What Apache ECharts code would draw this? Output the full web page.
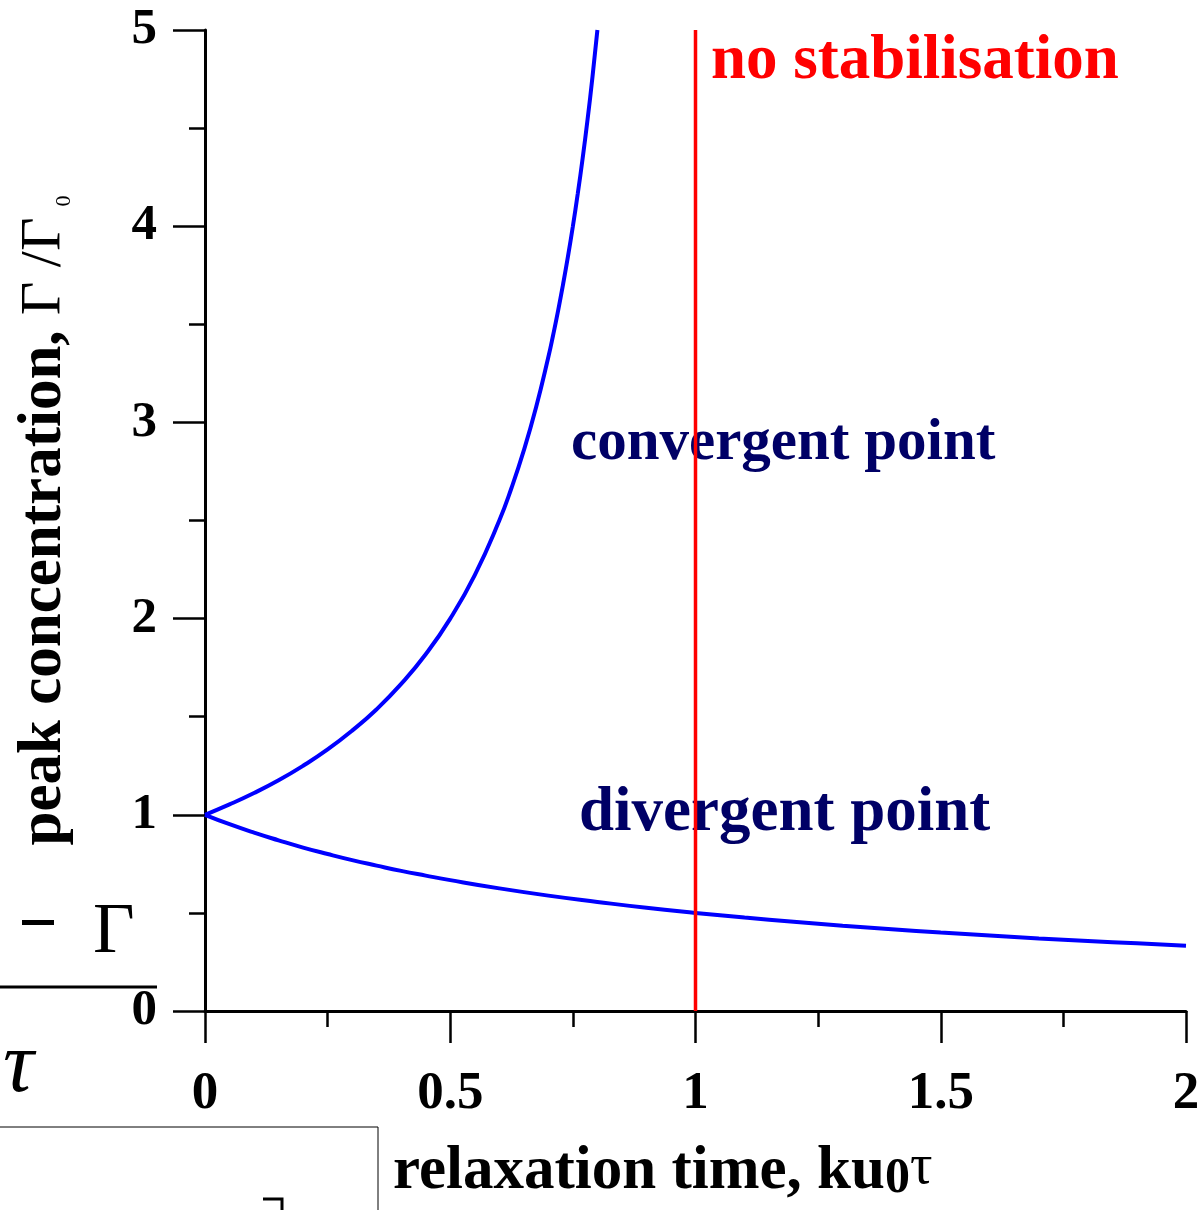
<!DOCTYPE html>
<html><head><meta charset="utf-8">
<script src="https://cdn.jsdelivr.net/npm/echarts@6/dist/echarts.min.js"></script>
<style>html,body{margin:0;padding:0;background:#fff}#c{width:1201px;height:1210px}</style>
</head><body><div id="c"></div>
<script>
// values
const upperX = [0, 0.05, 0.1, 0.15, 0.2, 0.25, 0.3, 0.35, 0.4, 0.45, 0.5, 0.55, 0.6, 0.625, 0.65, 0.675, 0.7, 0.71, 0.72, 0.73, 0.74, 0.75, 0.76, 0.77, 0.78, 0.79, 0.8];
const upperY = [1, 1.053, 1.111, 1.176, 1.25, 1.333, 1.429, 1.538, 1.667, 1.818, 2.0, 2.222, 2.5, 2.667, 2.857, 3.077, 3.333, 3.448, 3.571, 3.704, 3.846, 4.0, 4.167, 4.348, 4.545, 4.762, 5.0];
const lowerX = [0, 0.05, 0.1, 0.15, 0.2, 0.25, 0.3, 0.35, 0.4, 0.45, 0.5, 0.6, 0.7, 0.8, 0.9, 1.0, 1.1, 1.2, 1.3, 1.4, 1.5, 1.6, 1.7, 1.8, 1.9, 2.0];
const lowerY = [1, 0.952, 0.909, 0.870, 0.833, 0.8, 0.769, 0.741, 0.714, 0.690, 0.667, 0.625, 0.588, 0.556, 0.526, 0.5, 0.476, 0.455, 0.435, 0.417, 0.4, 0.385, 0.370, 0.357, 0.345, 0.333];
const limitX = [1, 1];
const limitY = [0, 5];
const xTicks = ['0', '0.5', '1', '1.5', '2'];
const yTicks = ['0', '1', '2', '3', '4', '5'];

const pair = (xs, ys) => xs.map((x, i) => [x, ys[i]]);
const serif = 'Liberation Serif';
const chart = echarts.init(document.getElementById('c'));
chart.setOption({
  animation: false,
  backgroundColor: '#fff',
  grid: { left: 205, right: 15, top: 30, bottom: 199, containLabel: false, outerBoundsMode: 'none' },
  xAxis: {
    type: 'value', min: 0, max: 2, interval: 0.5,
    axisLine: { show: true, onZero: false, lineStyle: { color: '#000', width: 3 } },
    axisTick: { show: true, inside: false, length: 32, lineStyle: { color: '#000', width: 2.5 } },
    minorTick: { show: true, splitNumber: 2, length: 16, lineStyle: { color: '#000', width: 2.5 } },
    splitLine: { show: false },
    axisLabel: { margin: 57, color: '#000', fontFamily: serif, fontWeight: 'bold', fontSize: 53,
      formatter: v => xTicks[Math.round(v / 0.5)] }
  },
  yAxis: {
    type: 'value', min: 0, max: 5, interval: 1,
    axisLine: { show: true, onZero: false, lineStyle: { color: '#000', width: 3 } },
    axisTick: { show: true, inside: false, length: 32, lineStyle: { color: '#000', width: 2.5 } },
    minorTick: { show: true, splitNumber: 2, length: 16, lineStyle: { color: '#000', width: 2.5 } },
    splitLine: { show: false },
    axisLabel: { margin: 48, color: '#000', fontFamily: serif, fontWeight: 'bold', fontSize: 51,
      formatter: v => yTicks[Math.round(v)] },
    name: '{b|peak concentration, }{n|Γ /Γ}{s|  0}',
    nameLocation: 'middle', nameRotate: 90, nameGap: 130,
    nameTextStyle: {
      rich: {
        b: { fontFamily: serif, fontWeight: 'bold', fontSize: 61, color: '#000' },
        n: { fontFamily: serif, fontSize: 58, color: '#000' },
        s: { fontFamily: serif, fontSize: 22, color: '#000', verticalAlign: 'bottom' }
      }
    }
  },
  series: [
    { type: 'line', data: pair(upperX, upperY), smooth: true, showSymbol: false, symbol: 'none',
      lineStyle: { color: '#0000ff', width: 4 }, z: 3 },
    { type: 'line', data: pair(lowerX, lowerY), smooth: true, showSymbol: false, symbol: 'none',
      lineStyle: { color: '#0000ff', width: 4 }, z: 3 },
    { type: 'line', data: pair(limitX, limitY), showSymbol: false, symbol: 'none',
      lineStyle: { color: '#ff0000', width: 3.5 }, z: 4 }
  ],
  graphic: [
    { type: 'text', left: 711, top: 30, z: 10, style: { text: 'no stabilisation', fill: '#ff0000',
      font: 'bold 63px "Liberation Serif"' } },
    { type: 'text', left: 571, top: 414, z: 2, style: { text: 'convergent point', fill: '#000066',
      font: 'bold 59px "Liberation Serif"' } },
    { type: 'text', left: 579, top: 782, z: 2, style: { text: 'divergent point', fill: '#000066',
      font: 'bold 63px "Liberation Serif"' } },
    { type: 'text', left: 393, top: 1140, z: 10, style: {
      text: '{b|relaxation time, ku}{s|0}{t|τ}',
      rich: {
        b: { fontFamily: serif, fontWeight: 'bold', fontSize: 61, fill: '#000' },
        s: { fontFamily: serif, fontWeight: 'bold', fontSize: 50, fill: '#000', verticalAlign: 'bottom', padding: [14, 0, 0, 0] },
        t: { fontFamily: serif, fontSize: 56, fill: '#000', padding: [0, 0, 8, 0] }
      } } },
    // stray equation fragments at the left edge
    { type: 'text', left: 93, top: 897, style: { text: 'Γ', fill: '#000', font: '72px "Liberation Serif"' } },
    { type: 'rect', shape: { x: 22, y: 920, width: 32, height: 5 }, style: { fill: '#000' } },
    { type: 'line', shape: { x1: 0, y1: 987, x2: 157, y2: 987 }, style: { stroke: '#000', lineWidth: 3 } },
    { type: 'text', left: 3, top: 1025, style: { text: 'τ', fill: '#000', font: 'italic 86px "Liberation Serif"' } },
    { type: 'line', shape: { x1: 0, y1: 1127, x2: 378, y2: 1127 }, style: { stroke: '#000', lineWidth: 1 } },
    { type: 'line', shape: { x1: 378, y1: 1127, x2: 378, y2: 1210 }, style: { stroke: '#000', lineWidth: 1 } },
    { type: 'polyline', shape: { points: [[263, 1199], [282, 1199], [282, 1210]] }, style: { stroke: '#000', lineWidth: 3, fill: null } }
  ]
});
</script></body></html>
